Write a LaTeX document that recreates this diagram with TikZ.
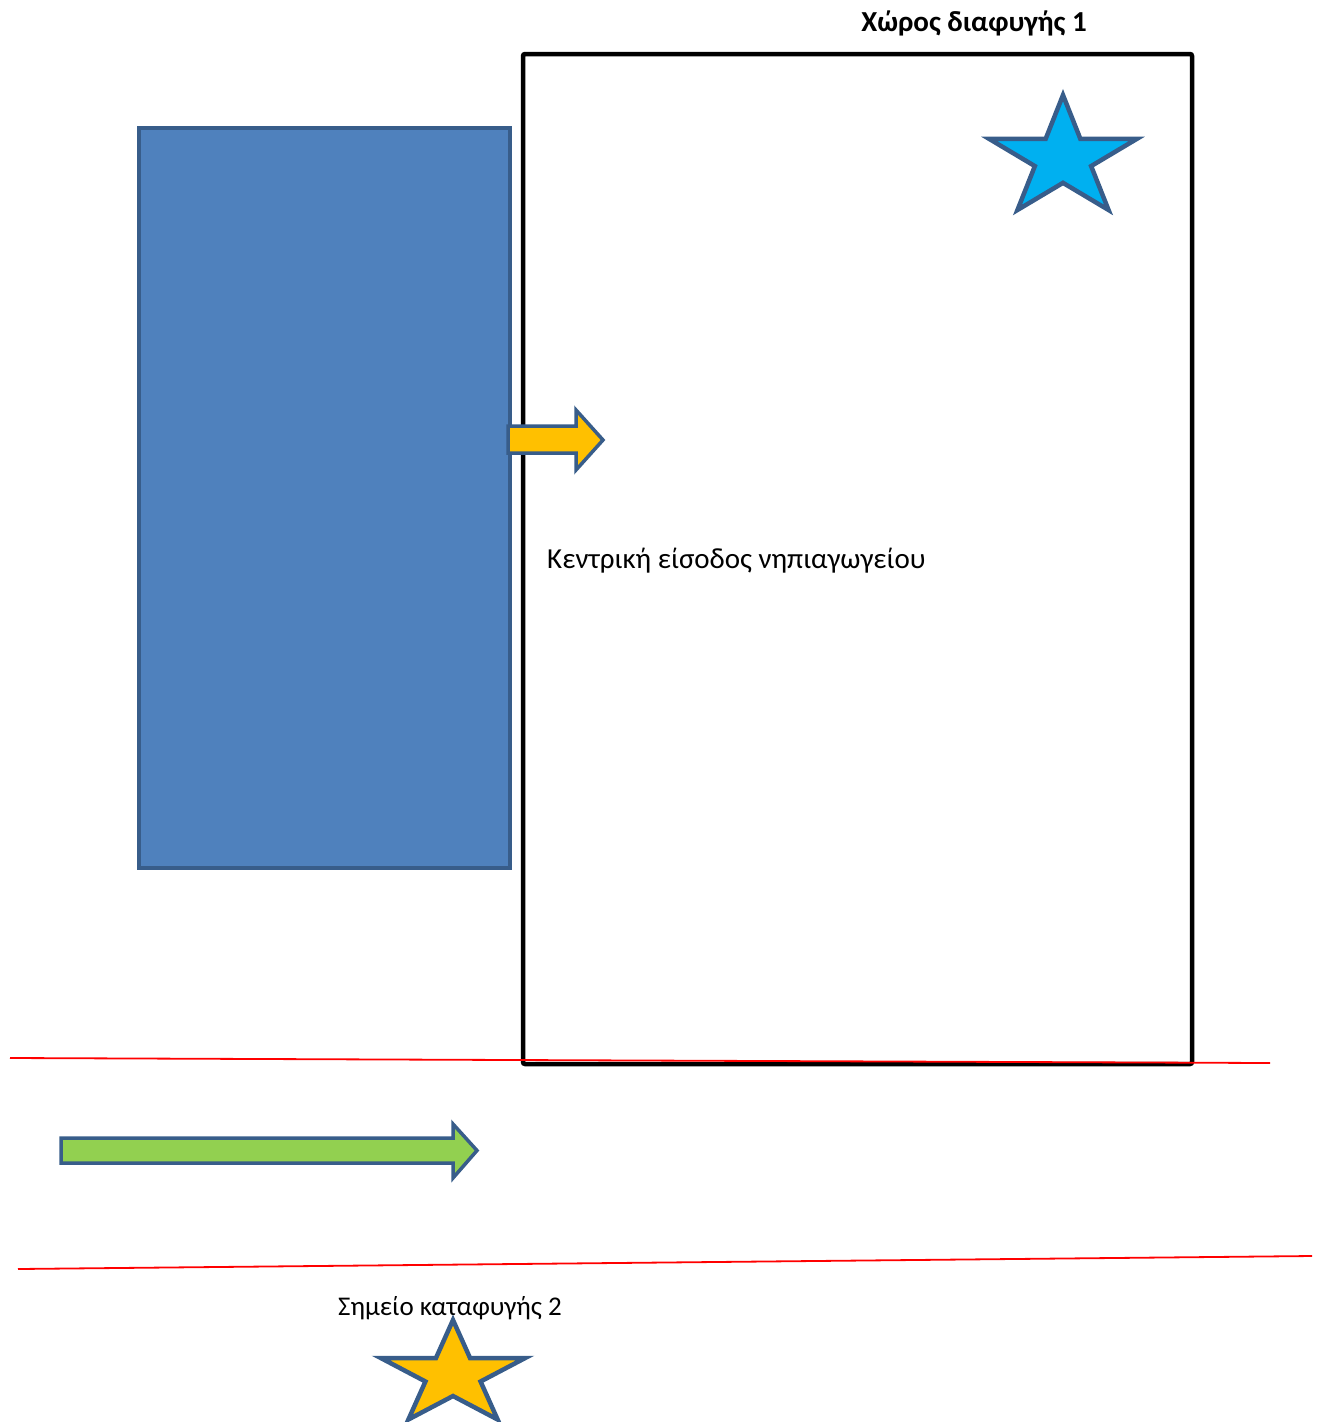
\documentclass[tikz,border=0pt]{standalone}
\usepackage{fontspec}
\setmainfont{Carlito}
\usetikzlibrary{shapes.geometric}
\definecolor{boxblue}{HTML}{4F81BD}
\definecolor{edgeblue}{HTML}{385D8A}
\definecolor{starblue}{HTML}{00B0F0}
\definecolor{gold}{HTML}{FFC000}
\definecolor{grass}{HTML}{92D050}

\begin{document}
\begin{tikzpicture}[
  x=1pt,y=-1pt,
  wall/.style={draw=black,line width=4.5pt,rounded corners=2pt},
  block/.style={fill=boxblue,draw=edgeblue,line width=3.5pt},
  pointer/.style={draw=edgeblue,line width=3.5pt,line join=miter},
  refuge/.style={star,star points=5,star point ratio=2.618,inner sep=0pt,
    draw=edgeblue,line width=4.5pt},
  border/.style={red,line width=1.8pt},
  tag/.style={inner sep=0pt,font=\fontsize{29}{35}\selectfont}]

  \useasboundingbox (0,0) rectangle (1320,1422);

  % yard and building
  \draw[wall] (523,54) rectangle (1192,1064);
  \draw[block] (139,128) rectangle (510,868);

  % entrance arrow
  \draw[pointer,fill=gold] (508,426) -- (576,426) -- (576,410) -- (603,440)
    -- (576,470) -- (576,453) -- (508,453) -- cycle;

  \begin{scope}[shift={(1063,158.6)}]
    \node[refuge,fill=starblue,minimum size=127pt,xscale=1.22] (exit1) at (0,0) {};
  \end{scope}
  \begin{scope}[shift={(453,1375)}]
    \node[refuge,fill=gold,minimum size=110pt,xscale=1.38] (shelter2) at (0,0) {};
  \end{scope}

  % street
  \draw[border] (10,1058) -- (1270,1063);
  \draw[border] (18,1269) -- (1312,1256);

  \draw[pointer,fill=grass] (61,1138) -- (453,1138) -- (453,1124) -- (477,1150.5)
    -- (453,1178) -- (453,1163) -- (61,1163) -- cycle;

  \node[tag,font=\fontsize{29}{35}\selectfont\bfseries] (exitname) at (974,23) {Χώρος διαφυγής 1};
  \node[tag,anchor=west] (entrance) at (547,561) {Κεντρική είσοδος νηπιαγωγείου};
  \node[tag,font=\fontsize{27}{32}\selectfont] (sheltername) at (450,1308) {Σημείο καταφυγής 2};
\end{tikzpicture}
\end{document}
